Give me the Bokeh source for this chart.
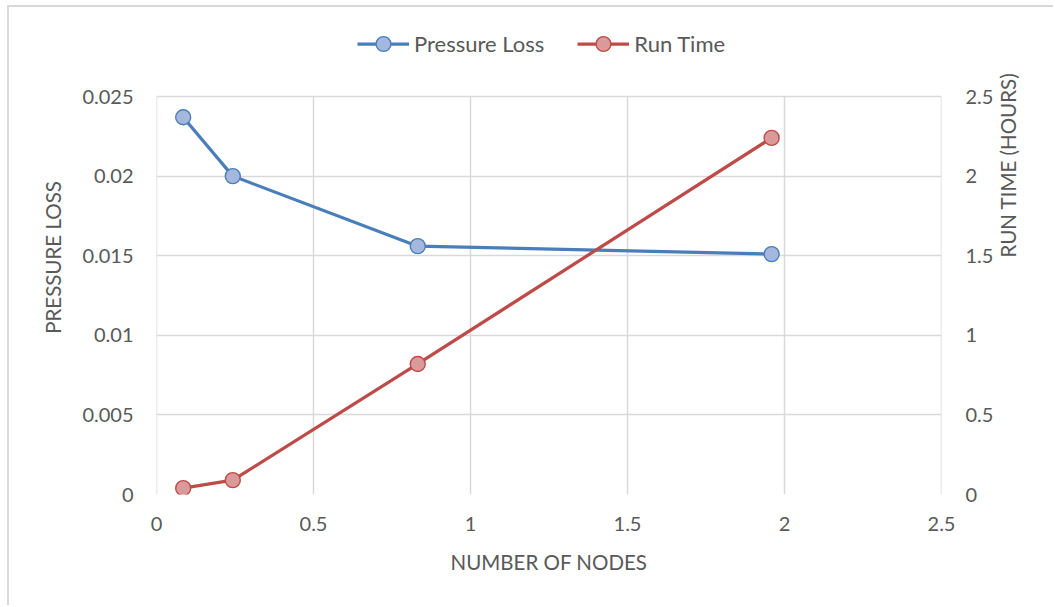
import math

from bokeh.plotting import figure
from bokeh.models import Range1d, LinearAxis, Legend, LegendItem
from bokeh.embed import file_html
from bokeh.resources import INLINE

# Simulation results: mesh size (millions of nodes) vs. pressure loss and run time
nodes = [0.085, 0.243, 0.832, 1.959]
pressure_loss = [0.0237, 0.0200, 0.0156, 0.0151]
run_time_hours = [0.04, 0.09, 0.82, 2.24]

x_ticks = [0, 0.5, 1, 1.5, 2, 2.5]
x_tick_labels = ["0", "0.5", "1", "1.5", "2", "2.5"]
pl_ticks = [0, 0.005, 0.01, 0.015, 0.02, 0.025]
pl_tick_labels = ["0", "0.005", "0.01", "0.015", "0.02", "0.025"]
rt_ticks = [0, 0.5, 1, 1.5, 2, 2.5]
rt_tick_labels = ["0", "0.5", "1", "1.5", "2", "2.5"]

FONT = "Lato"
TEXT = "#595959"
GRID = "#d9d9d9"
BLUE, BLUE_FILL = "#4a7ebb", "#a3b8dc"
RED, RED_FILL = "#be4b48", "#d99a99"

# The frame also holds the legend band above the gridded area, so both
# value ranges run past their last tick by the same fraction.
GRID_PX, FRAME_PX = 398, 474
headroom = FRAME_PX / GRID_PX
pl_top, rt_top = pl_ticks[-1], rt_ticks[-1]

p = figure(
    width=1046, height=600,
    min_border_left=147, min_border_right=114,
    min_border_top=13, min_border_bottom=113,
    x_range=Range1d(x_ticks[0], x_ticks[-1]),
    y_range=Range1d(0, pl_top * headroom),
    output_backend="svg", toolbar_location=None,
)
p.styles = {
    "margin-left": "7px", "margin-top": "5px",
    "border-left": "2px solid #d9d9d9", "border-top": "2px solid #d9d9d9",
}
p.extra_y_ranges = {"hours": Range1d(0, rt_top * headroom)}
p.outline_line_color = None
p.background_fill_color = "white"
p.border_fill_color = "white"

right_axis = LinearAxis(y_range_name="hours")
p.add_layout(right_axis, "right")

def style_axis(ax, ticks, labels, title, label_standoff, title_standoff):
    ax.ticker = ticks
    ax.major_label_overrides = {t: l for t, l in zip(ticks, labels)}
    ax.axis_label = title
    ax.axis_line_color = None
    ax.major_tick_line_color = None
    ax.minor_tick_line_color = None
    ax.major_tick_out = 0
    ax.major_tick_in = 0
    ax.major_label_standoff = label_standoff
    ax.major_label_text_font = FONT
    ax.major_label_text_font_size = "20px"
    ax.major_label_text_color = TEXT
    ax.axis_label_text_font = FONT
    ax.axis_label_text_font_size = "20.5px"
    ax.axis_label_text_font_style = "normal"
    ax.axis_label_text_color = TEXT
    ax.axis_label_standoff = title_standoff

style_axis(p.xaxis[0], x_ticks, x_tick_labels, "NUMBER OF NODES", 22, 16)
style_axis(p.yaxis[0], pl_ticks, pl_tick_labels, "PRESSURE LOSS", 23, 14)
style_axis(right_axis, rt_ticks, rt_tick_labels, "RUN TIME (HOURS)", 24, 12)
right_axis.axis_label_orientation = math.pi / 2

# horizontal grid from the left ticks; vertical grid stops at the top tick
p.ygrid.grid_line_color = GRID
p.ygrid.grid_line_width = 1.5
p.xgrid.visible = False
p.segment(x0=x_ticks, y0=[0] * len(x_ticks), x1=x_ticks,
          y1=[pl_top] * len(x_ticks), line_color=GRID, line_width=1.5)

bl = p.line(nodes, pressure_loss, line_color=BLUE, line_width=3.25)
bs = p.scatter(nodes, pressure_loss, size=15, fill_color=BLUE_FILL,
               line_color=BLUE, line_width=1.4)
rl = p.line(nodes, run_time_hours, line_color=RED, line_width=3.25,
            y_range_name="hours")
rs = p.scatter(nodes, run_time_hours, size=15, fill_color=RED_FILL,
               line_color=RED, line_width=1.4, y_range_name="hours")

legend = Legend(
    items=[LegendItem(label="Pressure Loss", renderers=[bl, bs]),
           LegendItem(label="Run Time", renderers=[rl, rs])],
    orientation="horizontal", location=(201, 432),
    glyph_width=52, glyph_height=37, label_height=37,
    label_standoff=5, spacing=33, padding=0, margin=0,
    border_line_color=None, background_fill_alpha=0,
    label_text_font=FONT, label_text_font_size="22px", label_text_color=TEXT,
)
p.add_layout(legend)

open("out.html", "w").write(file_html(p, INLINE))
